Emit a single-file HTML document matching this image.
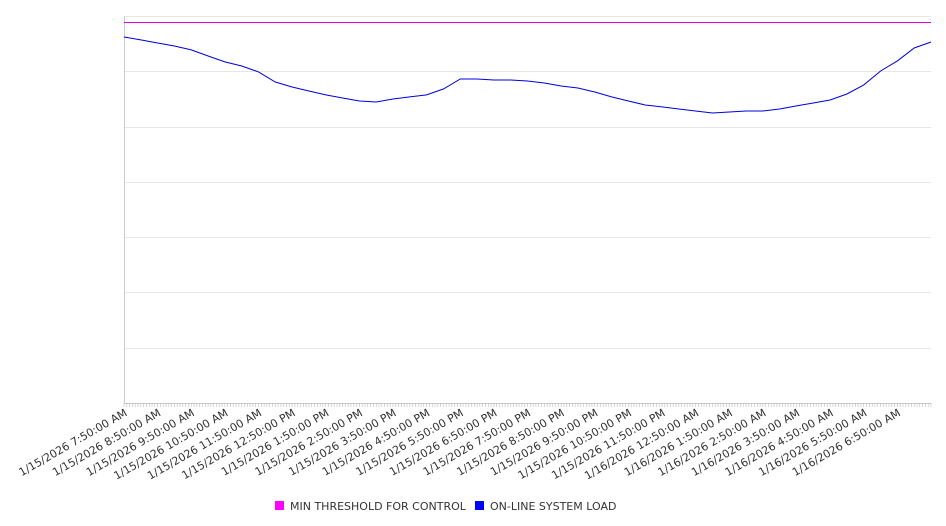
<!DOCTYPE html>
<html><head><meta charset="utf-8"><style>
body{margin:0;background:#fff;}
svg{display:block;font-family:"DejaVu Sans","Liberation Sans",sans-serif;}
</style></head><body>
<svg id="chart" width="946" height="526"></svg>
<script>
const loadValues = [6621,6567,6512,6458,6386,6277,6169,6096,5988,5807,5716,5644,5572,5517,5463,5445,5499,5536,5572,5680,5861,5861,5843,5843,5825,5789,5734,5698,5626,5536,5463,5391,5355,5318,5282,5246,5264,5282,5282,5318,5373,5427,5481,5590,5753,6006,6187,6422,6530];
const thresholdValue = 6900;
const yTicks = [0,1000,2000,3000,4000,5000,6000,7000];
const tickLabels = ["1/15/2026 7:50:00 AM","1/15/2026 8:50:00 AM","1/15/2026 9:50:00 AM","1/15/2026 10:50:00 AM","1/15/2026 11:50:00 AM","1/15/2026 12:50:00 PM","1/15/2026 1:50:00 PM","1/15/2026 2:50:00 PM","1/15/2026 3:50:00 PM","1/15/2026 4:50:00 PM","1/15/2026 5:50:00 PM","1/15/2026 6:50:00 PM","1/15/2026 7:50:00 PM","1/15/2026 8:50:00 PM","1/15/2026 9:50:00 PM","1/15/2026 10:50:00 PM","1/15/2026 11:50:00 PM","1/16/2026 12:50:00 AM","1/16/2026 1:50:00 AM","1/16/2026 2:50:00 AM","1/16/2026 3:50:00 AM","1/16/2026 4:50:00 AM","1/16/2026 5:50:00 AM","1/16/2026 6:50:00 AM"];

const svg = document.getElementById('chart');
const NS = 'http://www.w3.org/2000/svg';
const L=124, R=931, T=16, B=403, yMax=7000, hours=24;
const xS = h => L + h/hours*(R-L);
const yS = v => B - v/yMax*(B-T);
function mk(tag, attrs){const e=document.createElementNS(NS,tag);for(const k in attrs)e.setAttribute(k,attrs[k]);svg.appendChild(e);return e;}

yTicks.forEach(v=>{
  const y=Math.round(yS(v))+0.5;
  const g = mk('line',{x1:L,x2:R,y1:y,y2:y,stroke:'#e6e6e6','stroke-width':1});
  
  
});
const ax = mk('line',{x1:L+0.5,x2:L+0.5,y1:T,y2:B,stroke:'#ccc'});


const xa = mk('line',{x1:L,x2:R,y1:B+0.5,y2:B+0.5,stroke:'#ccc'});


for(let i=0;i<=hours*12;i++){
  const x=xS(i/12);
  const t=mk('line',{x1:x,x2:x,y1:B,y2:B+4,stroke:'#bbb','stroke-width':0.6});
  
  
}
tickLabels.forEach((lab,i)=>{
  const x=xS(i)+4, y=B+12;
  const t=mk('text',{x:x,y:y,'text-anchor':'end','font-size':11,fill:'#333',transform:`rotate(-30 ${x} ${y})`});
  t.textContent=lab;
  
  
});
const thy = Math.round(yS(thresholdValue))+0.5;
const th = mk('line',{x1:L,x2:R,y1:thy,y2:thy,stroke:'#dd00dd','stroke-width':1});


const step = hours/(loadValues.length-1);
const pts = loadValues.map((v,i)=>xS(i*step).toFixed(1)+','+yS(v).toFixed(1)).join(' ');
const ln = mk('polyline',{points:pts,fill:'none',stroke:'#0000dd','stroke-width':1});



const legend = [['#ff00ff','MIN THRESHOLD FOR CONTROL',275],['#0000ff','ON-LINE SYSTEM LOAD',475]];
legend.forEach(([c,txt,x])=>{
  const r=mk('rect',{x:x,y:501,width:9,height:9,fill:c});
  
  
  const t=mk('text',{x:x+15,y:510,'font-size':11,fill:'#333'});
  t.textContent=txt;
  
  
});
</script>
</body></html>
